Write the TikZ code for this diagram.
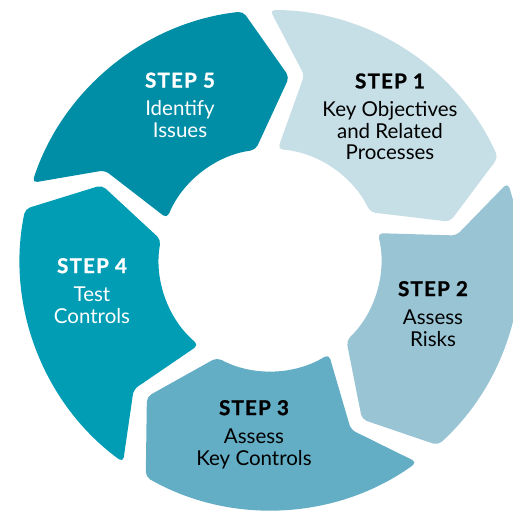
\documentclass[tikz,border=0pt]{standalone}
\usepackage{fontspec}
\setmainfont{Lato}
\definecolor{c1}{RGB}{198,222,230}
\definecolor{c2}{RGB}{152,196,212}
\definecolor{c3}{RGB}{99,173,197}
\definecolor{c4}{RGB}{0,157,181}
\definecolor{c5}{RGB}{0,141,166}
\newcommand{\steptitle}[1]{{\bfseries\addfontfeature{LetterSpace=6,FakeBold=1.2}#1}}
\begin{document}
\begin{tikzpicture}[x=1pt,y=1pt,
  steptext/.style={align=center, anchor=base, font=\fontsize{20.5}{21.7}\selectfont, inner sep=0pt},
  darktext/.style={steptext, text=black},
  lighttext/.style={steptext, text=white}]
\useasboundingbox (0,0) rectangle (513,512);
\foreach \n/\ts/\col in {1/92/c1, 2/20/c2, 3/-52/c3, 4/-124/c4, 5/-196/c5} {
  \pgfmathsetmacro\te{\ts-72}
  \pgfmathsetmacro\aa{\ts-2}
  \pgfmathsetmacro\bb{\te+4.2}
  \pgfmathsetmacro\tip{\te-8}
  \pgfmathsetmacro\ci{\te+5.5}
  \pgfmathsetmacro\dd{\ts-6}
  \pgfmathsetmacro\notch{\ts-12.5}
  \fill[\col, rounded corners=5pt, shift={(270,252)}]
    (\aa:250pt) arc[start angle=\aa, end angle=\bb, radius=250pt]
    -- (\tip:184pt) -- (\ci:111pt)
    arc[start angle=\ci, end angle=\dd, radius=111pt]
    -- (\notch:188pt) -- cycle;
}
\node[darktext] (t1) at (390,352) {\steptitle{STEP 1}\\[6.5pt]Key Objectives\\and Related\\Processes};
\node[darktext] (t2) at (433,166) {\steptitle{STEP 2}\\[6.5pt]Assess\\Risks};
\node[darktext] (t3) at (254,47) {\steptitle{STEP 3}\\[6.5pt]Assess\\Key Controls};
\node[lighttext] (t4) at (92,189) {\steptitle{STEP 4}\\[6.5pt]Test\\Controls};
\node[lighttext] (t5) at (180,374.5) {\steptitle{STEP 5}\\[6.5pt]Identify\\Issues};
\end{tikzpicture}
\end{document}
